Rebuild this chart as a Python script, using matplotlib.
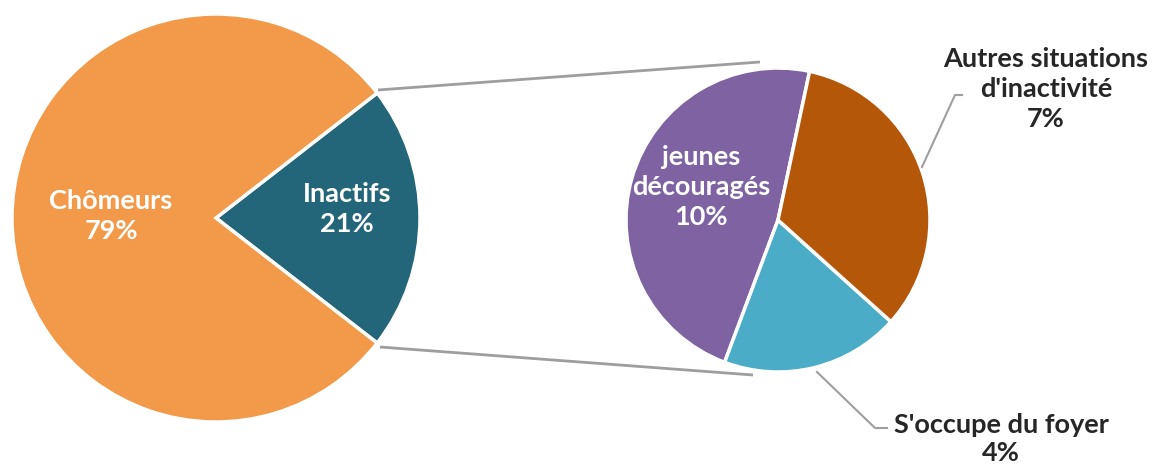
import matplotlib.pyplot as plt

# data
main_labels = ["Inactifs", "Chômeurs"]
main_values = [21, 79]
main_colors = ["#236679", "#F39A4A"]

sub_labels = ["jeunes\ndécouragés", "S'occupe du foyer", "Autres situations\nd'inactivité"]
sub_values = [10, 4, 7]
sub_colors = ["#7F62A1", "#4AACC6", "#B45709"]

plt.rcParams["font.family"] = ["Lato", "DejaVu Sans"]

fig = plt.figure(figsize=(11.57, 4.69), dpi=100)
ax = fig.add_axes([0, 0, 1, 1])

# left pie
c1, r1 = (216, 251), 204
start1 = -main_values[0] / 100 * 180
ax.pie(main_values, colors=main_colors, startangle=start1, center=c1, radius=r1,
       wedgeprops=dict(edgecolor="white", linewidth=2.5), frame=True)

# right pie
c2, r2 = (778, 249), 152
ax.pie(sub_values, colors=sub_colors, startangle=78, center=c2, radius=r2,
       wedgeprops=dict(edgecolor="white", linewidth=2.5), frame=True)
ax.set_xlim(0, 1157)
ax.set_ylim(0, 469)
ax.set_aspect("equal")
ax.axis("off")

# connector lines
lc = "#9E9E9E"
ax.plot([378, 760], [379, 407], color=lc, lw=2, solid_capstyle="butt")
ax.plot([380, 753], [122, 94], color=lc, lw=2, solid_capstyle="butt")

# leader lines
ax.plot([922, 955, 962], [302, 374, 374], color=lc, lw=1.5)
ax.plot([817, 875, 887], [97, 41, 41], color=lc, lw=1.5)

fs = 19.5
ls = 1.3
ax.text(111, 253, f"{main_labels[1]}\n{main_values[1]}%", ha="center", va="center",
        color="white", fontsize=fs, fontweight="bold", linespacing=ls)
ax.text(347, 260, f"{main_labels[0]}\n{main_values[0]}%", ha="center", va="center",
        color="white", fontsize=fs, fontweight="bold", linespacing=ls)
ax.text(701, 282, f"{sub_labels[0]}\n{sub_values[0]}%", ha="center", va="center",
        color="white", fontsize=fs, fontweight="bold", linespacing=ls)
ax.text(1046, 380, f"{sub_labels[2]}\n{sub_values[2]}%", ha="center", va="center",
        color="#262626", fontsize=fs, fontweight="bold", linespacing=ls)
ax.text(1001, 4, f"{sub_labels[1]}\n{sub_values[1]}%", ha="center", va="bottom",
        color="#262626", fontsize=fs, fontweight="bold", linespacing=1.2)

fig.savefig("out.png", dpi=100)
